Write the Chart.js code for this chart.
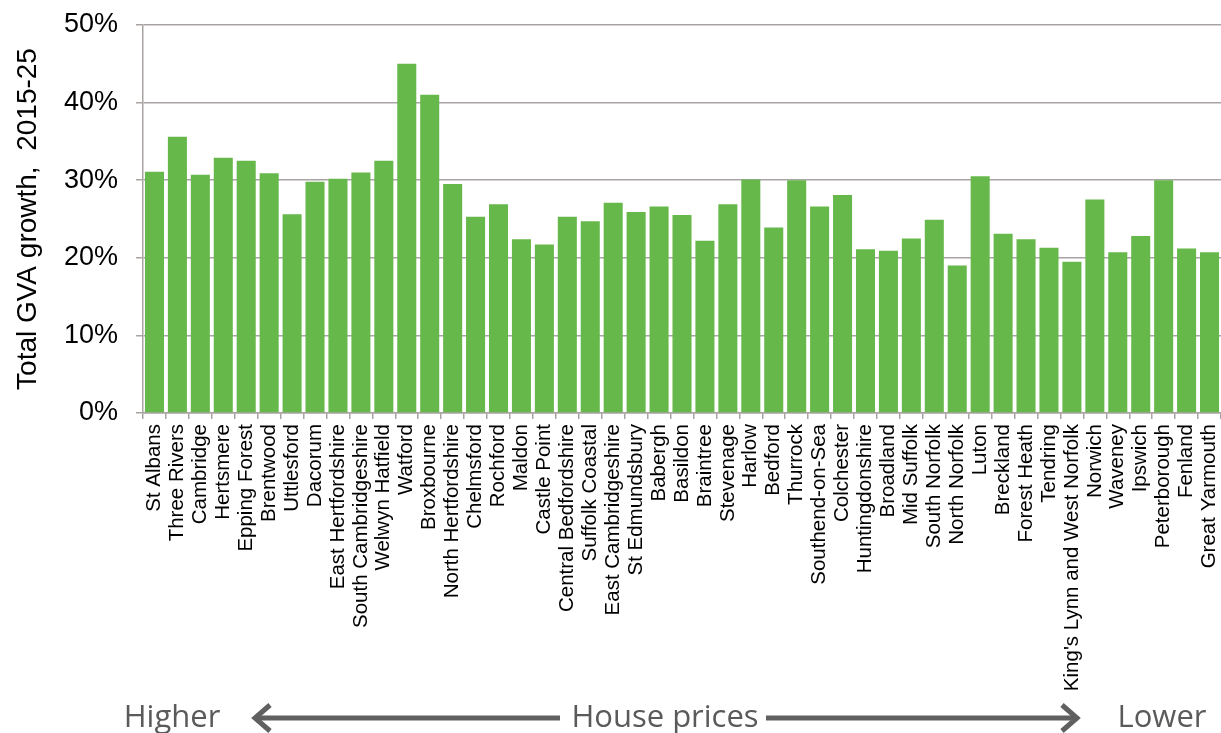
<!DOCTYPE html>
<html>
<head>
<meta charset="utf-8">
<script src="https://cdn.jsdelivr.net/npm/chart.js"></script>
<style>
  body { margin: 0; background: #fff; }
  #wrap { position: relative; width: 1221px; height: 733px; overflow: hidden; }
  #gva { position: absolute; left: 0; top: 0; }
  .note { position: absolute; top: 700px; font-family: 'Open Sans', sans-serif; font-size: 31px; line-height: 31px; color: #5a5a5a; white-space: nowrap; transform: translateX(-50%); }
  svg { position: absolute; left: 0; top: 0; }
</style>
</head>
<body>
<div id="wrap">
  <canvas id="gva" width="1221" height="733"></canvas>
  <svg width="1221" height="733">
    <g stroke="#606060" stroke-width="5" fill="none">
      <line x1="256" y1="718" x2="560" y2="718" />
      <polyline points="270,705 255,718 270,731" />
      <line x1="766" y1="718" x2="1074" y2="718" />
      <polyline points="1062,705 1077,718 1062,731" />
    </g>
  </svg>
  <div class="note" style="left:172px">Higher</div>
  <div class="note" style="left:665px">House prices</div>
  <div class="note" style="left:1162px">Lower</div>
</div>
<script>
// districts, ordered from higher to lower house prices
const districts = [
  'St Albans', 'Three Rivers', 'Cambridge', 'Hertsmere', 'Epping Forest', 'Brentwood',
  'Uttlesford', 'Dacorum', 'East Hertfordshire', 'South Cambridgeshire', 'Welwyn Hatfield',
  'Watford', 'Broxbourne', 'North Hertfordshire', 'Chelmsford', 'Rochford', 'Maldon',
  'Castle Point', 'Central Bedfordshire', 'Suffolk Coastal', 'East Cambridgeshire',
  'St Edmundsbury', 'Babergh', 'Basildon', 'Braintree', 'Stevenage', 'Harlow', 'Bedford',
  'Thurrock', 'Southend-on-Sea', 'Colchester', 'Huntingdonshire', 'Broadland', 'Mid Suffolk',
  'South Norfolk', 'North Norfolk', 'Luton', 'Breckland', 'Forest Heath', 'Tendring',
  "King's Lynn and West Norfolk", 'Norwich', 'Waveney', 'Ipswich', 'Peterborough',
  'Fenland', 'Great Yarmouth'
];

// total GVA growth 2015-25, in %
const gvaGrowth = [
  31.1, 35.6, 30.7, 32.9, 32.5, 30.9,
  25.6, 29.8, 30.2, 31.0, 32.5,
  45.0, 41.0, 29.5, 25.3, 26.9, 22.4,
  21.7, 25.3, 24.7, 27.1,
  25.9, 26.6, 25.5, 22.2, 26.9, 30.1, 23.9,
  30.0, 26.6, 28.1, 21.1, 20.9, 22.5,
  24.9, 19.0, 30.5, 23.1, 22.4, 21.3,
  19.5, 27.5, 20.7, 22.8, 30.0,
  21.2, 20.7
];

const yTicks = [0, 10, 20, 30, 40, 50];

const gridColour = '#aaa3a3';
const barColour = '#66b84a';

new Chart(document.getElementById('gva'), {
  type: 'bar',
  data: {
    labels: districts,
    datasets: [{
      data: gvaGrowth,
      backgroundColor: barColour,
      borderWidth: 0,
      barPercentage: 0.83,
      categoryPercentage: 1
    }]
  },
  options: {
    responsive: false,
    devicePixelRatio: 1,
    animation: false,
    layout: { padding: { top: 25, left: 0, right: 0, bottom: 0 } },
    plugins: {
      legend: { display: false },
      tooltip: { enabled: false }
    },
    scales: {
      x: {
        grid: { offset: true, drawOnChartArea: false, drawTicks: true, tickLength: 6, color: gridColour, lineWidth: 1.5 },
        border: { display: true, color: gridColour, width: 1.5 },
        ticks: {
          autoSkip: false,
          minRotation: 90,
          maxRotation: 90,
          padding: 5,
          color: '#000',
          font: { family: "'Liberation Sans', Arial, sans-serif", size: 20.5 }
        },
        afterFit: (scale) => {
          scale.height = 320;
          scale.paddingLeft = 0;
          scale.paddingRight = 0;
        }
      },
      y: {
        min: yTicks[0],
        max: yTicks[yTicks.length - 1],
        afterBuildTicks: (scale) => { scale.ticks = yTicks.map(v => ({ value: v })); },
        grid: { color: gridColour, lineWidth: 1.5, tickLength: 7 },
        border: { display: true, color: gridColour, width: 1.5 },
        ticks: {
          padding: 18,
          color: '#000',
          font: { family: "'Liberation Sans', Arial, sans-serif", size: 27 },
          callback: (v) => v + '%'
        },
        title: {
          display: true,
          text: 'Total GVA growth,  2015-25',
          color: '#000',
          font: { family: "'Liberation Sans', Arial, sans-serif", size: 28 },
          padding: { top: 11, bottom: 0 }
        },
        afterFit: (scale) => {
          scale.width = 143;
          scale.paddingTop = 0;
          scale.paddingBottom = 0;
        }
      }
    }
  }
});
</script>
</body>
</html>
